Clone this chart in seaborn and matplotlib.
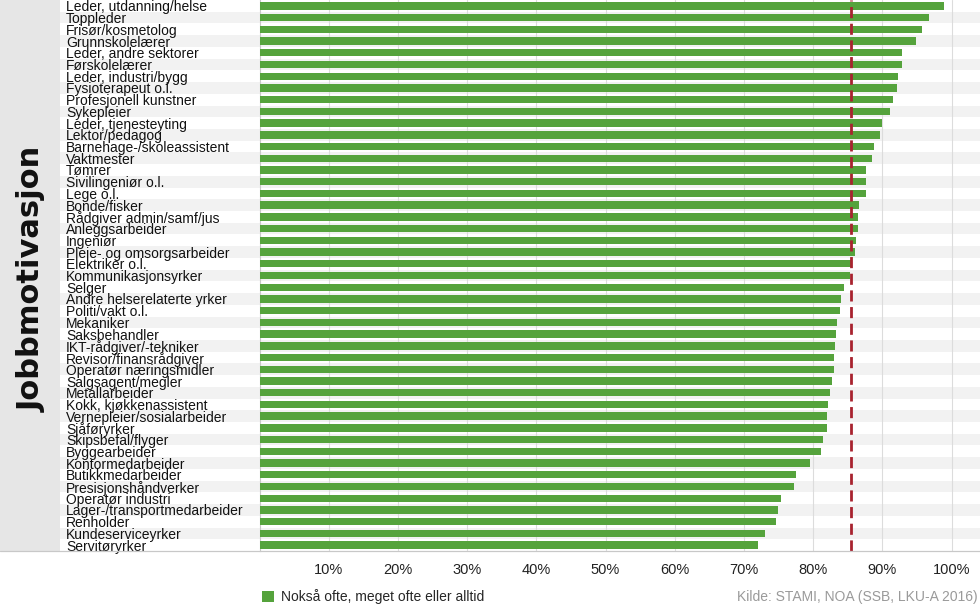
import matplotlib
matplotlib.use("Agg")
import matplotlib.pyplot as plt
import matplotlib.transforms as mtransforms
from matplotlib.patches import Rectangle, Patch
from matplotlib.lines import Line2D
import seaborn as sns
import pandas as pd

categories = [
    "Leder, utdanning/helse", "Toppleder", "Frisør/kosmetolog", "Grunnskolelærer",
    "Leder, andre sektorer", "Førskolelærer", "Leder, industri/bygg", "Fysioterapeut o.l.",
    "Profesjonell kunstner", "Sykepleier", "Leder, tjenesteyting", "Lektor/pedagog",
    "Barnehage-/skoleassistent", "Vaktmester", "Tømrer", "Sivilingeniør o.l.", "Lege o.l.",
    "Bonde/fisker", "Rådgiver admin/samf/jus", "Anleggsarbeider", "Ingeniør",
    "Pleie- og omsorgsarbeider", "Elektriker o.l.", "Kommunikasjonsyrker", "Selger",
    "Andre helserelaterte yrker", "Politi/vakt o.l.", "Mekaniker", "Saksbehandler",
    "IKT-rådgiver/-tekniker", "Revisor/finansrådgiver", "Operatør næringsmidler",
    "Salgsagent/megler", "Metallarbeider", "Kokk, kjøkkenassistent",
    "Vernepleier/sosialarbeider", "Sjåføryrker", "Skipsbefal/flyger", "Byggearbeider",
    "Kontormedarbeider", "Butikkmedarbeider", "Presisjonshåndverker", "Operatør industri",
    "Lager-/transportmedarbeider", "Renholder", "Kundeserviceyrker", "Servitøryrker",
]
values = [
    98.9, 96.8, 95.8, 94.9, 92.8, 92.8, 92.3, 92.1, 91.5, 91.1, 90.0, 89.6,
    88.8, 88.5, 87.7, 87.7, 87.7, 86.7, 86.5, 86.5, 86.2, 86.1, 85.6, 85.3,
    84.4, 84.0, 83.9, 83.5, 83.3, 83.2, 83.0, 83.0, 82.8, 82.5, 82.2, 82.0,
    82.0, 81.5, 81.1, 79.6, 77.5, 77.2, 75.4, 74.9, 74.6, 73.0, 72.1,
]
mean_value = 85.5
xticks = [10, 20, 30, 40, 50, 60, 70, 80, 90, 100]
xticklabels = ["10%", "20%", "30%", "40%", "50%", "60%", "70%", "80%", "90%", "100%"]
legend_label = "Nokså ofte, meget ofte eller alltid"
side_title = "Jobbmotivasjon"
source_text = "Kilde: STAMI, NOA (SSB, LKU-A 2016)"

GREEN = "#55a33c"
STRIPE = "#f2f2f2"

sns.set_theme(style="white")
plt.rcParams["font.family"] = ["Liberation Sans", "DejaVu Sans"]

W, H = 980, 609
fig = plt.figure(figsize=(W / 100, H / 100), dpi=100)

x0_px, x1_px = 259.5, 980
ybot_px = 551
ax = fig.add_axes([x0_px / W, 1 - ybot_px / H, (x1_px - x0_px) / W, ybot_px / H])
ax.patch.set_alpha(0)

df = pd.DataFrame({"cat": categories, "val": values})
sns.barplot(data=df, x="val", y="cat", orient="h", color=GREEN, saturation=1,
            width=0.63, ax=ax, zorder=3, edgecolor="none", linewidth=0)

n = len(categories)
ax.set_ylim(n - 0.5, -0.5)
px_per_pct = 6.92
ax.set_xlim(0, (x1_px - x0_px) / px_per_pct)

# stripes across label area and plot
left_ax = (60 - x0_px) / (x1_px - x0_px)
trans = mtransforms.blended_transform_factory(ax.transAxes, ax.transData)
for i in range(n):
    if i % 2 == 1:
        ax.add_patch(Rectangle((left_ax, i - 0.5), 1 - left_ax, 1, transform=trans,
                               facecolor=STRIPE, edgecolor="none", clip_on=False, zorder=0))

ax.set_xticks(xticks)
ax.set_xticklabels(xticklabels)
ax.tick_params(axis="x", length=0, pad=9, labelsize=10.5, labelcolor="#222222")
ax.grid(axis="x", color="#dcdcdc", linewidth=0.8, zorder=1)
ax.grid(axis="y", visible=False)
ax.set_axisbelow(False)
for gl in ax.get_xgridlines():
    gl.set_zorder(1)

ax.set_xlabel("")
ax.set_ylabel("")
ax.tick_params(axis="y", length=0, pad=(x0_px - 66) * 0.72, labelsize=10, labelcolor="#111111")
for lbl in ax.get_yticklabels():
    lbl.set_horizontalalignment("left")

for s in ["top", "right"]:
    ax.spines[s].set_visible(False)
ax.spines["bottom"].set_visible(False)
ax.spines["left"].set_color("#c8c8c8")
ax.spines["left"].set_linewidth(0.8)

ax.axvline(mean_value, color="#a8232f", linewidth=2, linestyle=(0, (4, 2)), zorder=4)

# left panel
fig.patches.append(Rectangle((0, 1 - ybot_px / H), 60 / W, ybot_px / H,
                             transform=fig.transFigure, facecolor="#e6e6e6",
                             edgecolor="none", zorder=0))
fig.text(32 / W, 1 - 279 / H, side_title, rotation=90, ha="center", va="center",
         fontsize=22, fontweight="bold", color="#111111",
         family=["DejaVu Sans"])
# bottom line across
fig.lines.append(Line2D([0, 1], [1 - ybot_px / H] * 2, transform=fig.transFigure,
                        color="#c8c8c8", linewidth=0.9))

handle = Patch(facecolor=GREEN, edgecolor="none")
fig.legend([handle], [legend_label], loc="center left",
           bbox_to_anchor=(262 / W, 1 - 597 / H), frameon=False, fontsize=10,
           handlelength=0.85, handleheight=0.85, handletextpad=0.5, borderpad=0,
           borderaxespad=0)
fig.text(978 / W, 1 - 597 / H, source_text, ha="right", va="center",
         fontsize=10, color="#9a9a9a")

fig.savefig("out.png", dpi=100)
